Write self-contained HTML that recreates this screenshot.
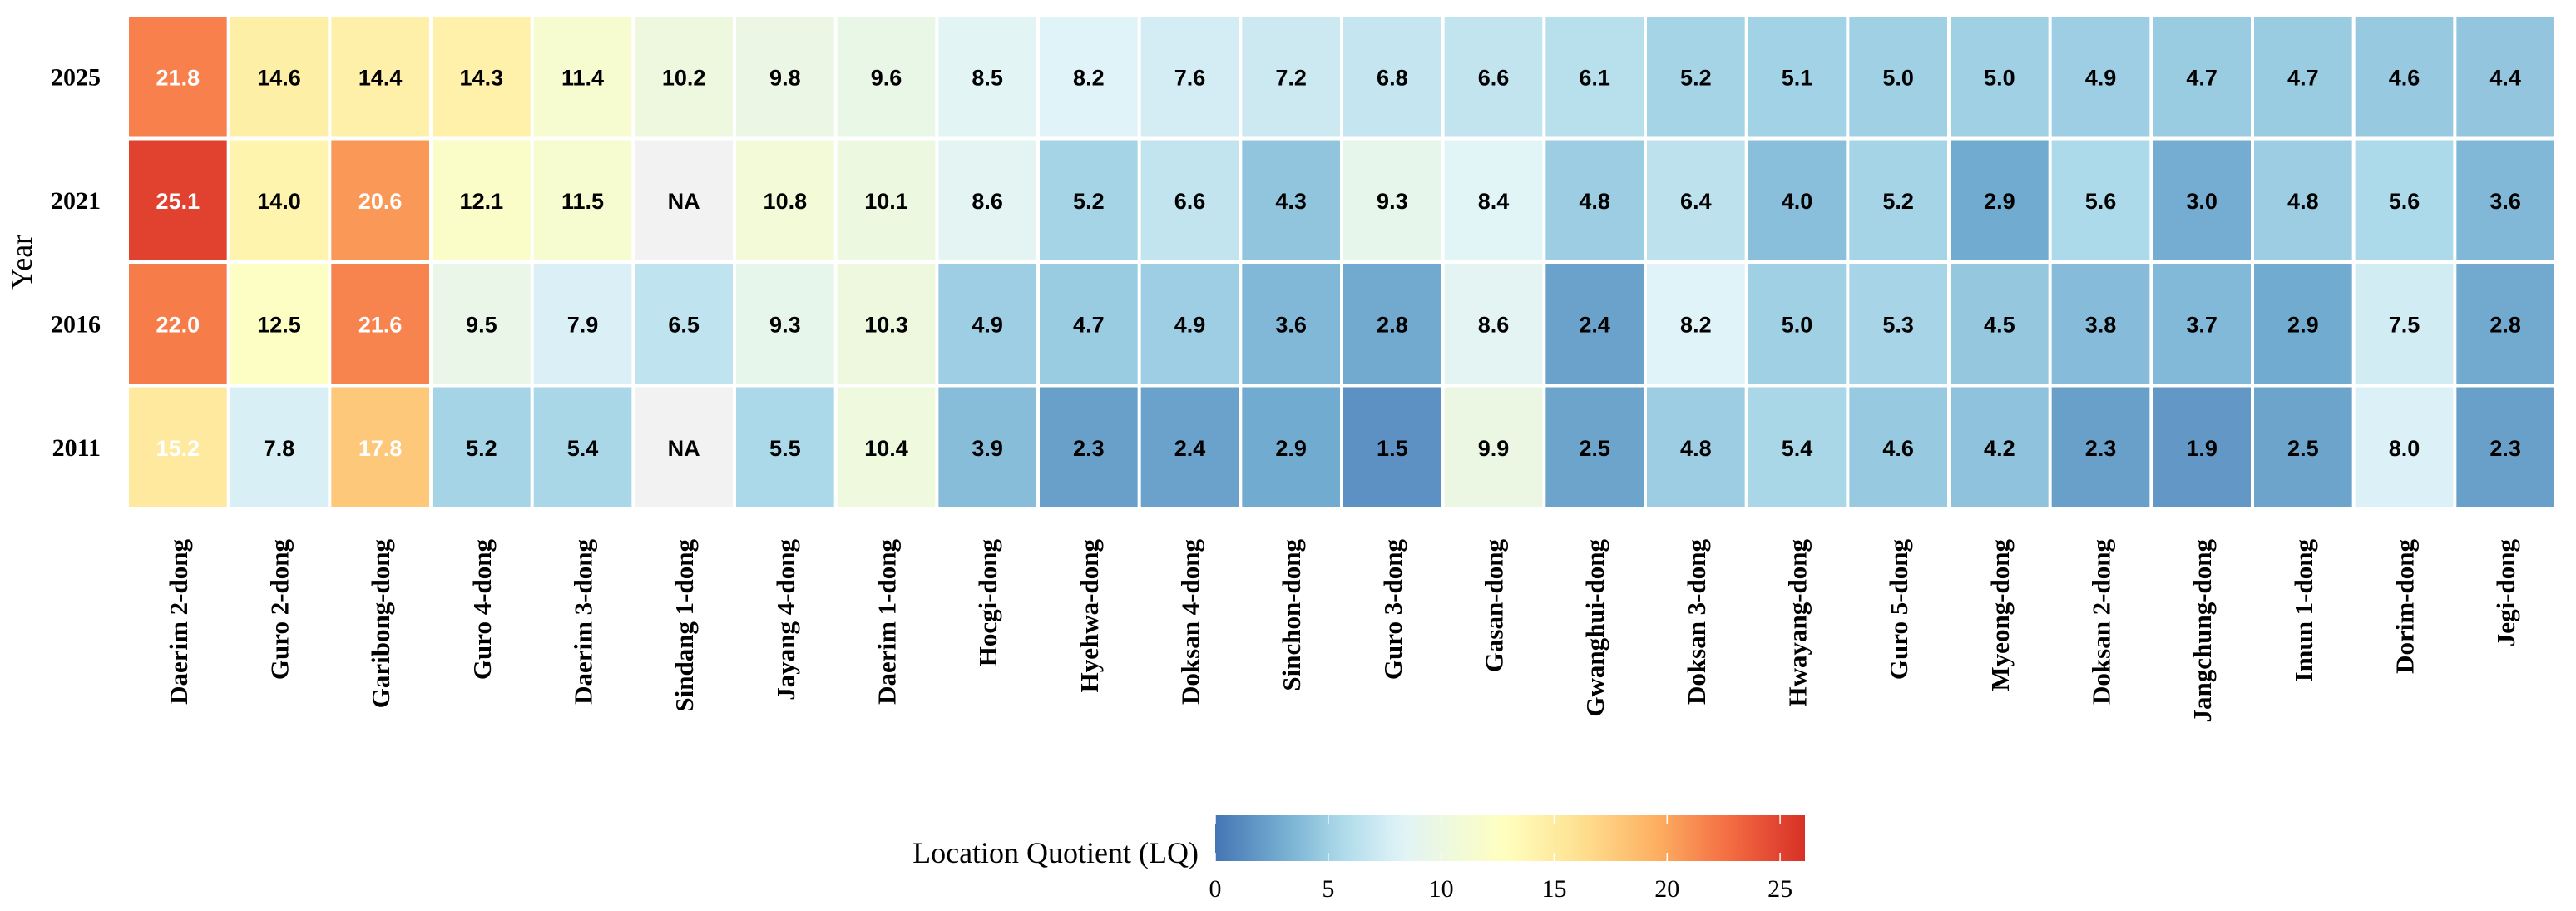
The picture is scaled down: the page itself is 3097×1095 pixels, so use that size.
<!DOCTYPE html>
<html><head><meta charset="utf-8"><style>
html,body{margin:0;padding:0;background:#fff;}
svg{display:block;}
</style></head><body>
<svg id="chart" width="3097" height="1095" xmlns="http://www.w3.org/2000/svg">
<defs><linearGradient id="cbgrad" x1="0" x2="1" y1="0" y2="0"></linearGradient></defs>
<g id="cells"></g>
<g id="ylabels"></g>
<g id="xlabels"></g>
<text x="0" y="0" transform="translate(38,315) rotate(-90)" text-anchor="middle" font-family="Liberation Serif, serif" font-size="36">Year</text>
<g id="legend"></g>
</svg>
<script>
const years = ["2025","2021","2016","2011"];
const dongs = ["Daerim 2-dong","Guro 2-dong","Garibong-dong","Guro 4-dong","Daerim 3-dong","Sindang 1-dong","Jayang 4-dong","Daerim 1-dong","Hocgi-dong","Hyehwa-dong","Doksan 4-dong","Sinchon-dong","Guro 3-dong","Gasan-dong","Gwanghui-dong","Doksan 3-dong","Hwayang-dong","Guro 5-dong","Myeong-dong","Doksan 2-dong","Jangchung-dong","Imun 1-dong","Dorim-dong","Jegi-dong"];
const lq2025 = [21.8,14.6,14.4,14.3,11.4,10.2,9.8,9.6,8.5,8.2,7.6,7.2,6.8,6.6,6.1,5.2,5.1,5.0,5.0,4.9,4.7,4.7,4.6,4.4];
const lq2021 = [25.1,14.0,20.6,12.1,11.5,null,10.8,10.1,8.6,5.2,6.6,4.3,9.3,8.4,4.8,6.4,4.0,5.2,2.9,5.6,3.0,4.8,5.6,3.6];
const lq2016 = [22.0,12.5,21.6,9.5,7.9,6.5,9.3,10.3,4.9,4.7,4.9,3.6,2.8,8.6,2.4,8.2,5.0,5.3,4.5,3.8,3.7,2.9,7.5,2.8];
const lq2011 = [15.2,7.8,17.8,5.2,5.4,null,5.5,10.4,3.9,2.3,2.4,2.9,1.5,9.9,2.5,4.8,5.4,4.6,4.2,2.3,1.9,2.5,8.0,2.3];
const legendTicks = [0,5,10,15,20,25];
const rows = [lq2025,lq2021,lq2016,lq2011];

const NS = "http://www.w3.org/2000/svg";
const gx0 = 153, gx1 = 3073, gy0 = 18, gy1 = 612, gap = 4;
const cw = (gx1-gx0)/dongs.length, ch = (gy1-gy0)/years.length;
const vmin = 0, vmax = 26.1;
const pal = ["#4575b4","#74add1","#abd9e9","#e0f3f8","#ffffbf","#fee090","#fdae61","#f46d43","#d73027"];
const palAt = [0,3,5.5,8.2,12.8,16.2,19.6,22.7,26.1];
function hex(h){return [parseInt(h.slice(1,3),16),parseInt(h.slice(3,5),16),parseInt(h.slice(5,7),16)];}
function color(v){
  v = Math.max(vmin,Math.min(vmax,v));
  let i = 0;
  while(i < palAt.length-2 && v > palAt[i+1]) i++;
  let f = (v-palAt[i])/(palAt[i+1]-palAt[i]);
  let a = hex(pal[i]), b = hex(pal[i+1]);
  let c = a.map((x,k)=>Math.round(x+(b[k]-x)*f));
  return "rgb("+c.join(",")+")";
}
function xPos(i){return gx0 + i*cw;}
function yPos(j){return gy0 + j*ch;}
function mk(tag, attrs, parent){const e=document.createElementNS(NS,tag);for(const k in attrs)e.setAttribute(k,attrs[k]);parent.appendChild(e);return e;}

const cells = document.getElementById("cells");
rows.forEach((row,j)=>{
  row.forEach((v,i)=>{
    const r = mk("rect",{x:xPos(i)+gap/2,y:yPos(j)+gap/2,width:cw-gap,height:ch-gap,fill:v===null?"#f2f2f2":color(v)},cells);
    
    
    const t = mk("text",{x:xPos(i)+cw/2,y:yPos(j)+ch/2+10,"text-anchor":"middle","font-family":"Liberation Sans, sans-serif","font-weight":"bold","font-size":"27",fill:(v!==null&&v>15)?"#ffffff":"#000000"},cells);
    
    
    t.textContent = v===null?"NA":v.toFixed(1);
  });
});
const yl = document.getElementById("ylabels");
years.forEach((y,j)=>{
  const t = mk("text",{x:121,y:yPos(j)+ch/2+10,"text-anchor":"end","font-family":"Liberation Serif, serif","font-weight":"bold","font-size":"30"},yl);
  
  
  t.textContent = y;
});
const xl = document.getElementById("xlabels");
dongs.forEach((d,i)=>{
  const cx = xPos(i)+cw/2+11;
  const t = mk("text",{x:0,y:0,transform:"translate("+cx+",648) rotate(-90)","text-anchor":"end","font-family":"Liberation Serif, serif","font-weight":"bold","font-size":"31"},xl);
  
  
  t.textContent = d;
});
const lg = document.getElementById("legend");
const grad = document.getElementById("cbgrad");
for(let k=0;k<=40;k++){
  mk("stop",{offset:(k/40),"stop-color":color(vmin+(vmax-vmin)*k/40)},grad);
}
const bx0 = 1461, bx1 = 2170, by0 = 980, by1 = 1035;
function lx(v){return bx0 + (v-vmin)/(vmax-vmin)*(bx1-bx0);}
const bar = mk("rect",{x:bx0,y:by0,width:bx1-bx0,height:by1-by0,fill:"url(#cbgrad)"},lg);


legendTicks.forEach(v=>{
  const l1 = mk("line",{x1:lx(v),x2:lx(v),y1:by0,y2:by0+10,stroke:"#fff","stroke-width":"1.5"},lg);
  
  
  const l2 = mk("line",{x1:lx(v),x2:lx(v),y1:by1-10,y2:by1,stroke:"#fff","stroke-width":"1.5"},lg);
  
  
  const t = mk("text",{x:lx(v),y:1078,"text-anchor":"middle","font-family":"Liberation Serif, serif","font-size":"30"},lg);
  
  
  t.textContent = v;
});
const lt = mk("text",{x:1441,y:1037,"text-anchor":"end","font-family":"Liberation Serif, serif","font-size":"36"},lg);


lt.textContent = "Location Quotient (LQ)";
</script>
</body></html>
